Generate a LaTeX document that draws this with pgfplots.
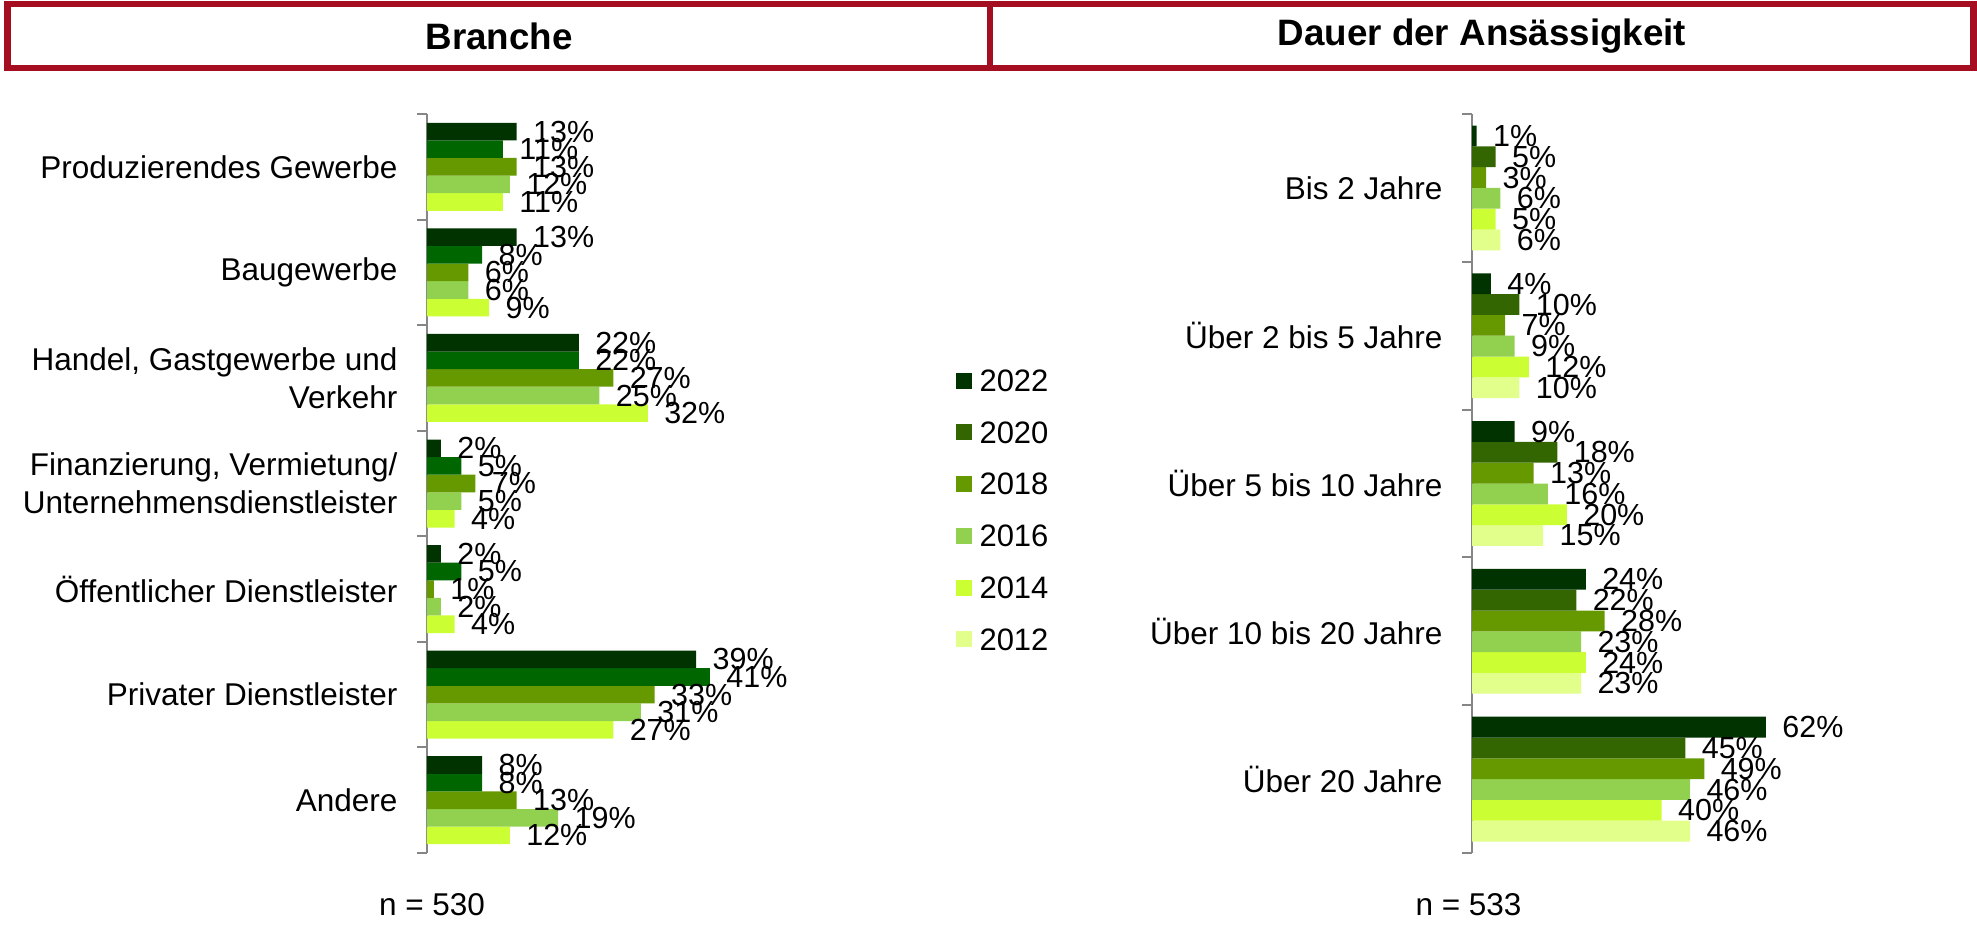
\documentclass[border=0pt]{standalone}
\usepackage{pgfplots}
\pgfplotsset{compat=1.18}
\usepackage{fontspec}
\setmainfont{Liberation Sans}
\definecolor{cA}{HTML}{003300}
\definecolor{cBl}{HTML}{006600}
\definecolor{cBr}{HTML}{336600}
\definecolor{cC}{HTML}{669900}
\definecolor{cD}{HTML}{92D050}
\definecolor{cE}{HTML}{CCFF33}
\definecolor{cF}{HTML}{E1FF8A}
\definecolor{framered}{HTML}{A50E21}
\definecolor{axgray}{HTML}{868686}
\pgfplotsset{
  panel/.style={
    xbar=0pt, scale only axis, height=295.6pt, xmin=0, y dir=reverse,
    axis x line=none, axis y line=left,
    axis line style={draw=axgray, line width=0.8pt, -},
    tick align=outside, major tick length=0pt, minor tick length=4pt,
    minor tick style={draw=axgray, line width=0.8pt},
    yticklabel style={align=right, inner sep=0pt, xshift=-11.6pt,
      font=\fontsize{12.6}{15.1}\selectfont},
    nodes near coords={\pgfmathprintnumber{\pgfplotspointmeta}\%},
    nodes near coords style={anchor=west, inner sep=0pt, xshift=6.4pt,
      font=\fontsize{12.2}{14}\selectfont, text=black},
    /pgf/number format/assume math mode=true,
    clip=false,
  }
}
\begin{document}
\begin{tikzpicture}
% Left panel: Branche (plotted from oldest to newest so that 2022 is on top)
\begin{axis}[panel, at={(170.8pt,-45.6pt)}, anchor=north west,
  width=165.6pt, xmax=60, ymin=-0.5, ymax=6.5, bar width=7.04pt,
  ytick={0,...,6}, minor ytick={-0.5,0.5,...,6.5},
  yticklabels={Produzierendes Gewerbe, Baugewerbe, {Handel, Gastgewerbe und\\Verkehr}, {Finanzierung, Vermietung/\\Unternehmensdienstleister}, Öffentlicher Dienstleister, Privater Dienstleister, Andere}]
\addplot[fill=cE, draw=none] coordinates {(11,0) (9,1) (32,2) (4,3) (4,4) (27,5) (12,6)};
\addplot[fill=cD, draw=none] coordinates {(12,0) (6,1) (25,2) (5,3) (2,4) (31,5) (19,6)};
\addplot[fill=cC, draw=none] coordinates {(13,0) (6,1) (27,2) (7,3) (1,4) (33,5) (13,6)};
\addplot[fill=cBl, draw=none] coordinates {(11,0) (8,1) (22,2) (5,3) (5,4) (41,5) (8,6)};
\addplot[fill=cA, draw=none] coordinates {(13,0) (13,1) (22,2) (2,3) (2,4) (39,5) (8,6)};
\end{axis}
% Right panel: Dauer der Ansaessigkeit
\begin{axis}[panel, at={(588.8pt,-45.6pt)}, anchor=north west,
  width=151.68pt, xmax=80, ymin=-0.5, ymax=4.5, bar width=8.32pt,
  ytick={0,...,4}, minor ytick={-0.5,0.5,...,4.5},
  yticklabels={Bis 2 Jahre, Über 2 bis 5 Jahre, Über 5 bis 10 Jahre, Über 10 bis 20 Jahre, Über 20 Jahre},
  legend cell align=left, reverse legend,
  legend style={at={(-1.3634,0.4646)}, anchor=west, draw=none, fill=none,
    inner sep=0pt, row sep=11.8pt, column sep=3.2pt,
    font=\fontsize{12.4}{14}\selectfont,
    nodes={inner sep=0pt, text height=8.9pt, text depth=0pt}},
  legend image code/.code={\fill[#1] (0pt,-3.3pt) rectangle (6.4pt,3.1pt);}]
\addplot[fill=cF, draw=none] coordinates {(6,0) (10,1) (15,2) (23,3) (46,4)};
\addplot[fill=cE, draw=none] coordinates {(5,0) (12,1) (20,2) (24,3) (40,4)};
\addplot[fill=cD, draw=none] coordinates {(6,0) (9,1) (16,2) (23,3) (46,4)};
\addplot[fill=cC, draw=none] coordinates {(3,0) (7,1) (13,2) (28,3) (49,4)};
\addplot[fill=cBr, draw=none] coordinates {(5,0) (10,1) (18,2) (22,3) (45,4)};
\addplot[fill=cA, draw=none] coordinates {(1,0) (4,1) (9,2) (24,3) (62,4)};
\legend{2012,2014,2016,2018,2020,2022}
\end{axis}
% Header boxes
\draw[framered, line width=2.6pt] (3pt,-1.6pt) rectangle (789.4pt,-27.2pt);
\draw[framered, line width=2.6pt] (396pt,-1.6pt) -- (396pt,-27.2pt);
\node[font=\fontsize{14.7}{17}\selectfont\bfseries] at (199.6pt,-14.4pt) {Branche};
\node[font=\fontsize{14.7}{17}\selectfont\bfseries] at (592.8pt,-14.4pt) {Dauer der Ansässigkeit};
% sample sizes
\node[anchor=base, font=\fontsize{12.6}{14}\selectfont] at (172.8pt,-366pt) {n = 530};
\node[anchor=base, font=\fontsize{12.6}{14}\selectfont] at (587.4pt,-366pt) {n = 533};
\pgfresetboundingbox
\path[use as bounding box] (0pt,0pt) rectangle (790.8pt,-370pt);
\end{tikzpicture}
\end{document}
